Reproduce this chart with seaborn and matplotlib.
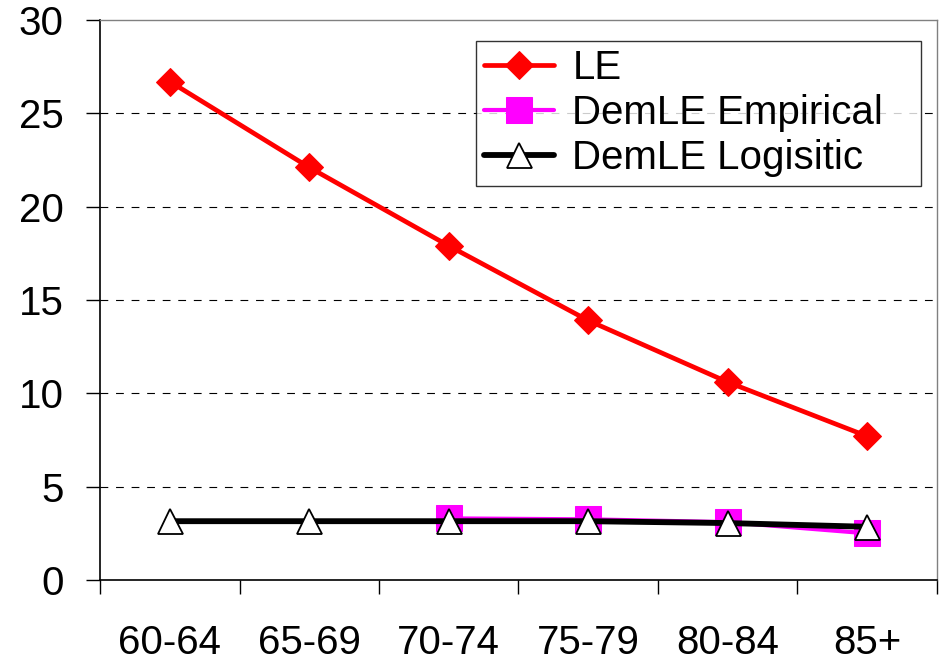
import numpy as np
import pandas as pd
import matplotlib
matplotlib.use("Agg")
import matplotlib.pyplot as plt
import seaborn as sns

age_groups = ["60-64", "65-69", "70-74", "75-79", "80-84", "85+"]
le = [26.7, 22.1, 17.9, 13.9, 10.6, 7.7]
demle_empirical = [np.nan, np.nan, 3.3, 3.25, 3.1, 2.5]
demle_logistic = [3.15, 3.15, 3.15, 3.15, 3.05, 2.85]

sns.set_style("white")
plt.rcParams["font.family"] = ["Liberation Sans", "DejaVu Sans"]
plt.rcParams["text.color"] = "black"
plt.rcParams["xtick.color"] = "black"
plt.rcParams["ytick.color"] = "black"

df = pd.DataFrame({"x": range(len(age_groups)), "LE": le,
                   "DemLE Empirical": demle_empirical,
                   "DemLE Logisitic": demle_logistic})

fig, ax = plt.subplots(figsize=(9.41, 6.64), dpi=100)
fig.subplots_adjust(left=0.1063, right=0.9957, top=0.97, bottom=0.1265)

sns.lineplot(data=df, x="x", y="LE", ax=ax, color="#ff0000", lw=3.4,
             marker="D", markersize=14.5, markeredgecolor="#ff0000", label="LE")
sns.lineplot(data=df, x="x", y="DemLE Empirical", ax=ax, color="#ff00ff", lw=3,
             marker="s", markersize=19, markeredgecolor="#ff00ff", label="DemLE Empirical")
sns.lineplot(data=df, x="x", y="DemLE Logisitic", ax=ax, color="black", lw=4.2,
             marker="^", markersize=18, markerfacecolor="white", markeredgecolor="black",
             markeredgewidth=1.3, label="DemLE Logisitic")

ax.set_xlim(-0.5, len(age_groups) - 0.5)
ax.set_ylim(0, 30)
ax.set_yticks(range(0, 31, 5))
ax.set_xticks(range(len(age_groups)))
ax.set_xticklabels(age_groups)
ax.set_xticks(np.arange(-0.5, len(age_groups), 1), minor=True)
ax.tick_params(axis="x", which="major", length=0, pad=32, labelsize=29)
ax.tick_params(axis="x", which="minor", length=10, width=1, color="black", direction="out", bottom=True)
ax.tick_params(axis="y", length=10, width=1, color="black", direction="out", left=True, labelsize=29, pad=16)
ax.set_xlabel("")
ax.set_ylabel("")

for v in range(5, 30, 5):
    ax.axhline(v, color="black", lw=0.8, ls=(0, (7, 7)), zorder=0)

for s in ["left", "bottom"]:
    ax.spines[s].set_color("black")
    ax.spines[s].set_linewidth(1.2)
for s in ["top", "right"]:
    ax.spines[s].set_color("#808080")
    ax.spines[s].set_linewidth(1)

leg = ax.legend(loc="upper left", bbox_to_anchor=(0.449, 0.5, 0.532, 0.4625), mode="expand",
                fontsize=29, frameon=True, fancybox=False, handlelength=1.75, borderpad=0.2,
                labelspacing=0.18, handletextpad=0.45, borderaxespad=0)
leg.get_frame().set_edgecolor("black")
leg.get_frame().set_linewidth(1)

fig.savefig("out.png", dpi=100)
